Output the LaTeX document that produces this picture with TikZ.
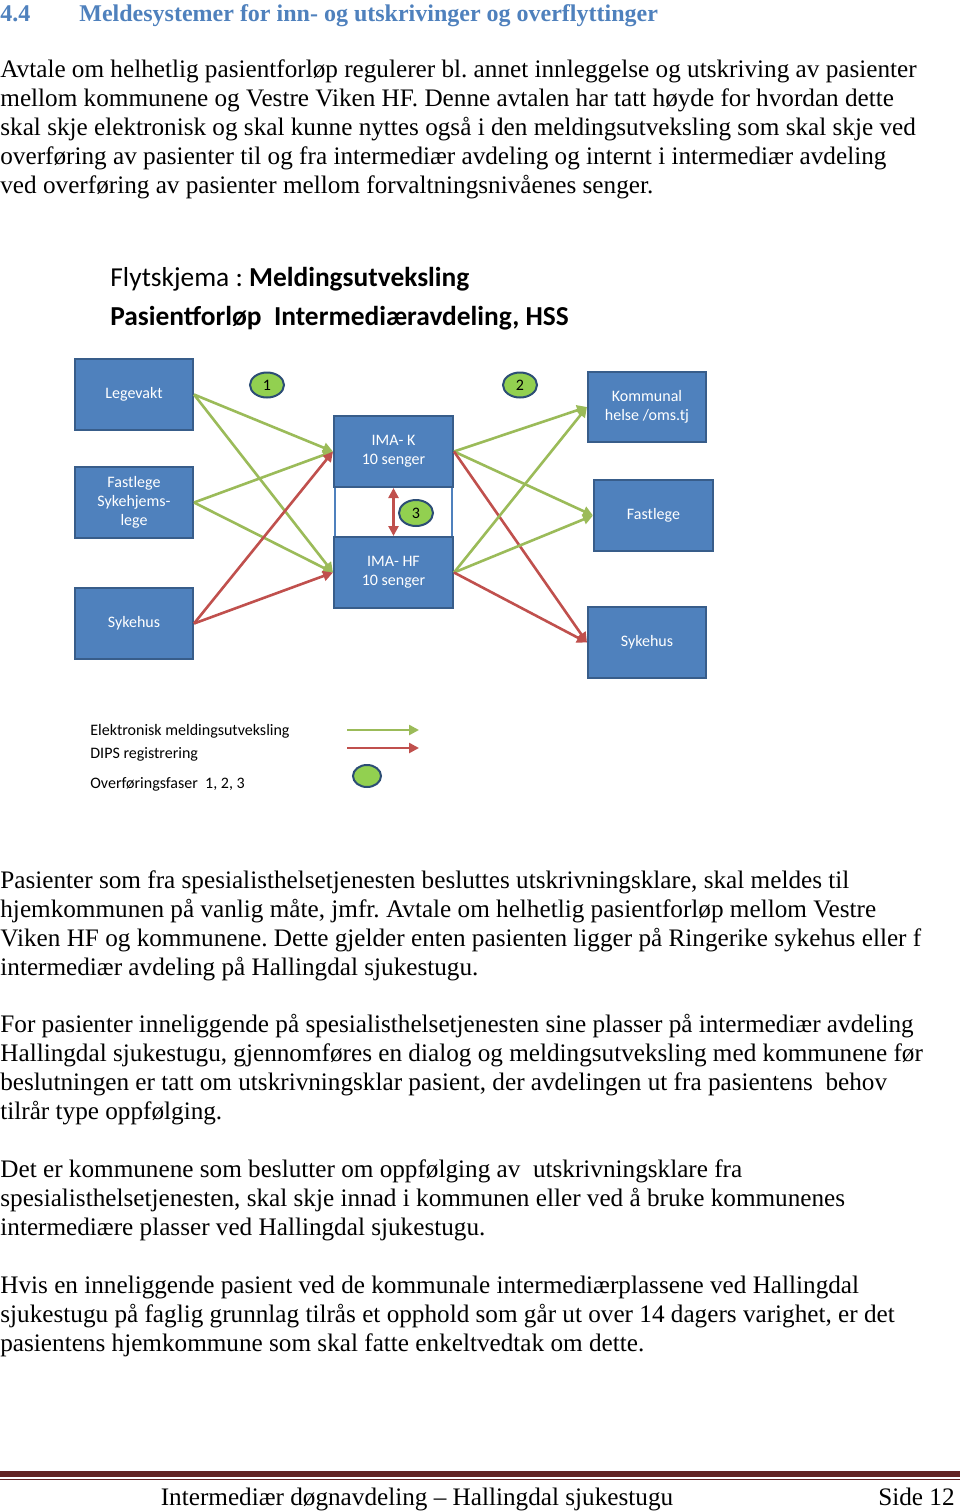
\documentclass[tikz,border=0pt]{standalone}
\usepackage{fontspec}
\setmainfont{Liberation Serif}
\newfontfamily\calibri{Carlito}
\frenchspacing
\usetikzlibrary{arrows.meta}
\usetikzlibrary{shapes.geometric}
\definecolor{boksbla}{HTML}{4F81BD}
\definecolor{boksramme}{HTML}{385D8A}
\definecolor{pilgronn}{HTML}{9BBB59}
\definecolor{pilrod}{HTML}{C0504D}
\definecolor{fasegronn}{HTML}{92D050}
\definecolor{faseramme}{HTML}{2C4D75}
\definecolor{overskrift}{HTML}{4F81BD}
\definecolor{bunnlinje}{HTML}{622423}
\newcommand{\brodfont}{\fontsize{12.6}{14.5}\selectfont}
\newcommand{\boksfont}{\calibri\fontsize{8}{9.5}\selectfont}
\tikzset{
  avsnitt/.style= {anchor=north west, inner sep=0, align=left, font=\brodfont},
  boks/.style= {draw=boksramme, fill=boksbla, text=white, font=\boksfont, align=center,
    line width=1pt, minimum width=59pt, minimum height=35.5pt, inner sep=1pt},
  fase/.style= {ellipse, draw=faseramme, fill=fasegronn, line width=1pt, inner sep=0,
    minimum width=17pt, minimum height=12.5pt, font=\boksfont},
  epil/.style= {draw=pilgronn, line width=1.3pt, -{Triangle[length=5pt,width=5pt]}},
  dpil/.style= {draw=pilrod, line width=1.3pt, -{Triangle[length=5pt,width=5pt]}},
  forklaring/.style= {anchor=base west, inner sep=0, font=\boksfont},
}

\begin{document}
\begin{tikzpicture}[x=0.5pt, y=-0.5pt]
  \useasboundingbox [fill=white] (0,0) rectangle (960,1512);

  % overskrift og innledning
  \node [anchor=base west, inner sep=0, text=overskrift, font=\fontsize{12}{14}\selectfont\bfseries] (nr) at (0,21) {4.4};
  \node [anchor=base west, inner sep=0, text=overskrift, font=\fontsize{12}{14}\selectfont\bfseries] (tittel) at (79,21)
    {Meldesystemer for inn- og utskrivinger og overflyttinger};
  \node [avsnitt] (a1) at (0,57) {\strut Avtale om helhetlig pasientforløp regulerer bl. annet innleggelse og utskriving av pasienter\\
    mellom kommunene og Vestre Viken HF. Denne avtalen har tatt høyde for hvordan dette\\
    skal skje elektronisk og skal kunne nyttes også i den meldingsutveksling som skal skje ved\\
    overføring av pasienter til og fra intermediær avdeling og internt i intermediær avdeling\\
    ved overføring av pasienter mellom forvaltningsnivåenes senger.};

  % flytskjema
  \node [anchor=base west, inner sep=0, font=\calibri\fontsize{13.7}{19.5}\selectfont] (fs1) at (110,286)
    {Flytskjema : \textbf{Meldingsutveksling}};
  \node [anchor=base west, inner sep=0, font=\calibri\fontsize{13.7}{19.5}\selectfont\bfseries] (fs2) at (110,325)
    {Pasientforløp\ \ Intermediæravdeling, HSS};

  \node [boks] (lv) at (134,394.5) {Legevakt};
  \node [boks] (fl) at (134,502.5) {Fastlege\\Sykehjems-\\lege};
  \node [boks] (sh) at (134,623.5) {Sykehus};

  \node [draw=boksbla, fill=white, line width=1pt, minimum width=58.5pt, minimum height=25pt, inner sep=0] (mid) at (393.5,512) {};
  \node [boks, minimum width=59.5pt] (imak) at (393.5,451.5) {IMA- K\\10 senger};
  \node [boks, minimum width=59.5pt] (imahf) at (393.5,572.5) {IMA- HF\\10 senger};

  \node [boks, minimum height=35pt] (kom) at (647,407) {Kommunal\\helse /oms.tj};
  \node [boks, minimum width=59.5pt] (flh) at (653.5,515.5) {Fastlege};
  \node [boks] (shh) at (647,642.5) {Sykehus};

  \node [fase] (f1) at (267,385) {1};
  \node [fase] (f2) at (520,385) {2};
  \node [fase, minimum height=13pt] (f3) at (416,513) {3};

  \draw [epil] (lv.east) -- (imak.west);
  \draw [epil] (lv.east) -- (imahf.west);
  \draw [epil] (fl.east) -- (imak.west);
  \draw [epil] (fl.east) -- (imahf.west);
  \draw [dpil] (sh.east) -- (imak.west);
  \draw [dpil] (sh.east) -- (imahf.west);

  \draw [epil] (imak.east) -- (kom.west);
  \draw [epil] (imak.east) -- (flh.west);
  \draw [dpil] (imak.east) -- (shh.west);
  \draw [epil] (imahf.east) -- (kom.west);
  \draw [epil] (imahf.east) -- (flh.west);
  \draw [dpil] (imahf.east) -- (shh.west);

  \draw [dpil, {Triangle[length=5pt,width=5pt]}-{Triangle[length=5pt,width=5pt]}] (imak.south) -- (imahf.north);

  % forklaring
  \node [forklaring] (fk1) at (90,735) {Elektronisk meldingsutveksling};
  \node [forklaring] (fk2) at (90,758) {DIPS registrering};
  \node [forklaring] (fk3) at (90,788) {Overføringsfaser\ \ 1, 2, 3};
  \coordinate (ea) at (347,730);
  \coordinate (eb) at (419,730);
  \coordinate (da) at (347,748);
  \coordinate (db) at (419,748);
  \draw [epil] (ea) -- (eb);
  \draw [dpil] (da) -- (db);
  \node [fase, minimum width=14pt, minimum height=11pt] (fk) at (367,776) {};

  % brodtekst
  \node [avsnitt] (a2) at (0,868) {\strut Pasienter som fra spesialisthelsetjenesten besluttes utskrivningsklare, skal meldes til\\
    hjemkommunen på vanlig måte, jmfr. Avtale om helhetlig pasientforløp mellom Vestre\\
    Viken HF og kommunene. Dette gjelder enten pasienten ligger på Ringerike sykehus eller f\\
    intermediær avdeling på Hallingdal sjukestugu.};
  \node [avsnitt] (a3) at (0,1012) {\strut For pasienter inneliggende på spesialisthelsetjenesten sine plasser på intermediær avdeling\\
    Hallingdal sjukestugu, gjennomføres en dialog og meldingsutveksling med kommunene før\\
    beslutningen er tatt om utskrivningsklar pasient, der avdelingen ut fra pasientens\ \ behov\\
    tilrår type oppfølging.};
  \node [avsnitt] (a4) at (0,1157) {\strut Det er kommunene som beslutter om oppfølging av\ \ utskrivningsklare fra\\
    spesialisthelsetjenesten, skal skje innad i kommunen eller ved å bruke kommunenes\\
    intermediære plasser ved Hallingdal sjukestugu.};
  \node [avsnitt] (a5) at (0,1273) {\strut Hvis en inneliggende pasient ved de kommunale intermediærplassene ved Hallingdal\\
    sjukestugu på faglig grunnlag tilrås et opphold som går ut over 14 dagers varighet, er det\\
    pasientens hjemkommune som skal fatte enkeltvedtak om dette.};

  % bunntekst
  \draw [bunnlinje, line width=3pt] (0,1474) -- (960,1474);
  \draw [bunnlinje, line width=0.5pt] (0,1479.5) -- (960,1479.5);
  \node [anchor=base, inner sep=0, font=\brodfont] (bt) at (417,1505) {Intermediær døgnavdeling -- Hallingdal sjukestugu};
  \node [anchor=base east, inner sep=0, font=\brodfont] (side) at (955,1505) {Side 12};
\end{tikzpicture}
\end{document}
